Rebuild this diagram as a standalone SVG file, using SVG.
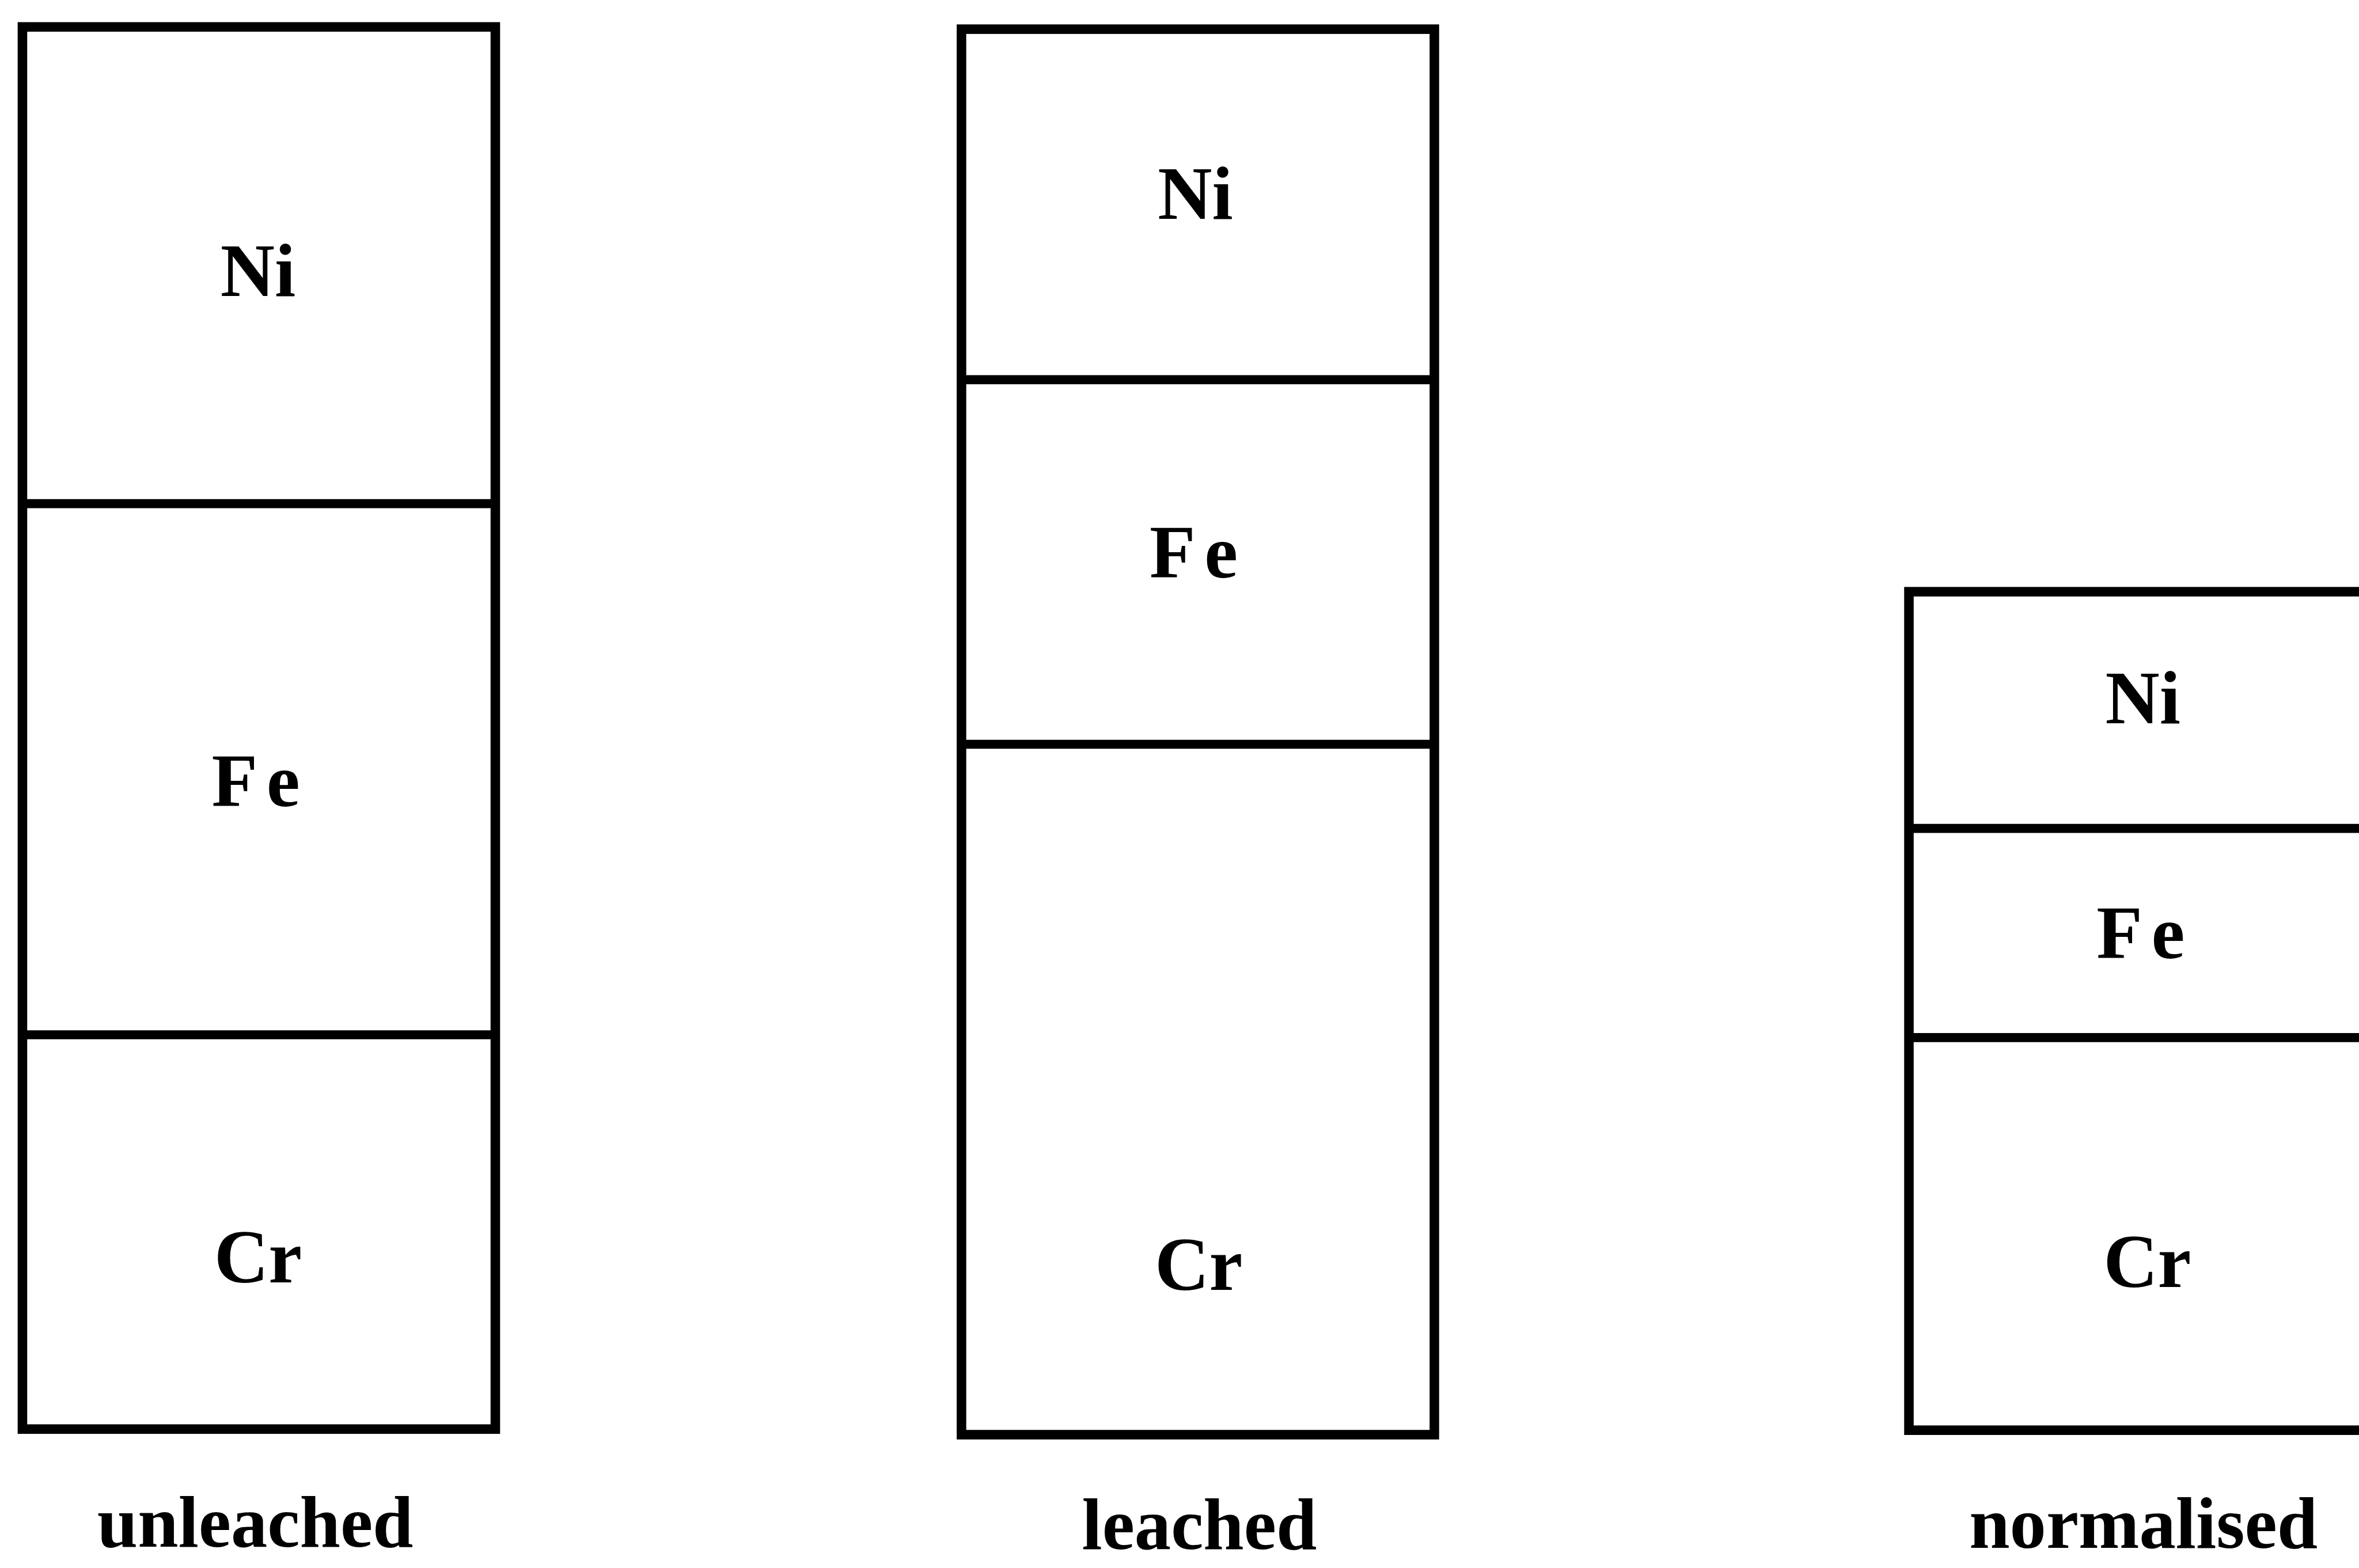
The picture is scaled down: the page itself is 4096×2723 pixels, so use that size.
<svg xmlns="http://www.w3.org/2000/svg" width="4096" height="2723" viewBox="0 0 4096 2723">
<style>
.box{fill:#fff;stroke:#000;stroke-width:17}
.div{stroke:#000;stroke-width:16;fill:none}
.el{font-family:"Liberation Serif","Times New Roman",serif;font-weight:bold;font-size:134px;text-anchor:middle;fill:#000}
.fe{letter-spacing:16px}
.lbl{font-family:"Liberation Serif","Times New Roman",serif;font-weight:bold;font-size:130px;text-anchor:middle;fill:#000}
</style>
<rect width="4096" height="2723" fill="#fff"/>
<g transform="scale(0.974)">
<g id="unleached">
<rect class="box" x="40" y="48" width="843" height="2500"/>
<line class="div" x1="40" y1="898" x2="883" y2="898"/>
<line class="div" x1="40" y1="1845" x2="883" y2="1845"/>
<text class="el" x="460" y="528">Ni</text>
<text class="el fe" x="464" y="1437">Fe</text>
<text class="el" x="460" y="2286">Cr</text>
<text class="lbl" x="455" y="2758">unleached</text>
</g>
<g id="leached">
<rect class="box" x="1714" y="52" width="843" height="2506"/>
<line class="div" x1="1714" y1="677" x2="2557" y2="677"/>
<line class="div" x1="1714" y1="1327" x2="2557" y2="1327"/>
<text class="el" x="2131" y="390">Ni</text>
<text class="el fe" x="2136" y="1030">Fe</text>
<text class="el" x="2137" y="2300">Cr</text>
<text class="lbl" x="2138" y="2762">leached</text>
</g>
<g id="normalised">
<rect class="box" x="3403" y="1055" width="860" height="1495"/>
<line class="div" x1="3403" y1="1477" x2="4263" y2="1477"/>
<line class="div" x1="3403" y1="1850" x2="4263" y2="1850"/>
<text class="el" x="3820" y="1290">Ni</text>
<text class="el fe" x="3824" y="1708">Fe</text>
<text class="el" x="3828" y="2295">Cr</text>
<text class="lbl" x="3821" y="2760">normalised</text>
</g>
<g id="connectors"/>
</g>
</svg>
